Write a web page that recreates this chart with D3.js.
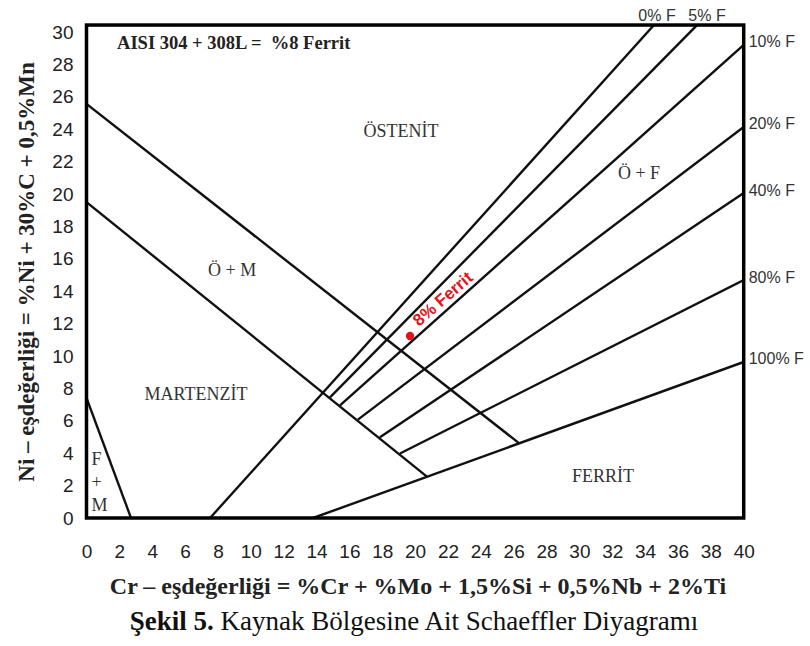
<!DOCTYPE html>
<html><head><meta charset="utf-8">
<script src="https://cdn.jsdelivr.net/npm/d3@7"></script>
<style>body{margin:0;background:#fff}svg{display:block}</style>
</head><body>
<svg id="chart" width="810" height="646"></svg>
<script>
// ---------- data ----------
const crTicks = [0,2,4,6,8,10,12,14,16,18,20,22,24,26,28,30,32,34,36,38,40];
const niTicks = [0,2,4,6,8,10,12,14,16,18,20,22,24,26,28,30];
const crMax = 40;
const niFrameTop = 30.43;

// phase boundary lines [Cr_eq, Ni_eq]
const austeniteBoundary = [[0, 25.56], [26.32, 4.62]];
const martensiteBoundary = [[0, 19.5], [20.72, 2.55]];
const ferriteMartensiteBoundary = [[0, 7.41], [2.71, 0]];

// iso-ferrite lines
const ferriteLabels = ["0% F", "5% F", "10% F", "20% F", "40% F", "80% F", "100% F"];
const ferriteStart = [[7.52, 0], [14.82, 7.45], [15.43, 6.95], [16.52, 6.07], [17.86, 4.98], [19.08, 3.98], [13.79, 0]];
const ferriteEnd = [[34.54, 30.43], [37.16, 30.43], [40, 29.2], [40, 24.14], [40, 20.06], [40, 14.69], [40, 9.63]];

// weld point
const weldPoint = [19.69, 11.23];
const weldLabel = "8% Ferrit";

// region names and their centres [Cr_eq, Ni_eq]
const regionNames = ["ÖSTENİT", "Ö + F", "Ö + M", "MARTENZİT", "FERRİT"];
const regionCenters = [[19.14, 23.9], [33.63, 21.3], [8.86, 15.3], [6.66, 7.65], [31.44, 2.6]];
const fmLetters = ["F", "+", "M"];

const noteText = "AISI 304 + 308L =  %8 Ferrit";
const xTitle = "Cr – eşdeğerliği = %Cr + %Mo + 1,5%Si + 0,5%Nb + 2%Ti";
const yTitle = "Ni – eşdeğerliği = %Ni + 30%C + 0,5%Mn";
const captionBold = "Şekil 5.";
const captionRest = " Kaynak Bölgesine Ait Schaeffler Diyagramı";

// ---------- drawing ----------
const svg = d3.select("#chart");
const x = d3.scaleLinear().domain([0, crMax]).range([86.5, 743.7]);
const y = d3.scaleLinear().domain([0, 30]).range([518, 32]);
const sans = "'Liberation Sans', Arial, sans-serif";
const serif = "'Liberation Serif', 'Times New Roman', serif";

svg.append("defs").append("clipPath").attr("id", "plotClip")
  .append("rect")
  .attr("x", x(0)).attr("y", y(niFrameTop))
  .attr("width", x(crMax) - x(0)).attr("height", y(0) - y(niFrameTop));

const line = d3.line().x(d => x(d[0])).y(d => y(d[1]));
const plot = svg.append("g").attr("clip-path", "url(#plotClip)");

const allLines = [austeniteBoundary, martensiteBoundary, ferriteMartensiteBoundary]
  .concat(ferriteStart.map((s, i) => [s, ferriteEnd[i]]));
plot.selectAll("path.bound").data(allLines).join("path")
  .attr("class", "bound")
  .attr("d", line)
  .attr("fill", "none").attr("stroke", "#111").attr("stroke-width", 2.4);

// frame
svg.append("rect")
  .attr("x", x(0)).attr("y", y(niFrameTop))
  .attr("width", x(crMax) - x(0)).attr("height", y(0) - y(niFrameTop))
  .attr("fill", "none").attr("stroke", "#000").attr("stroke-width", 3.5);

// axes
const yAxis = svg.append("g").attr("transform", `translate(${x(0)},0)`)
  .call(d3.axisLeft(y).tickValues(niTicks).tickSize(0).tickPadding(13));
const xAxis = svg.append("g").attr("transform", `translate(0,${y(0)})`)
  .call(d3.axisBottom(x).tickValues(crTicks).tickSize(0).tickPadding(27));
[yAxis, xAxis].forEach(g => {
  g.select(".domain").remove();
  g.selectAll("text").attr("font-family", sans).attr("font-size", 19).attr("fill", "#222");
});

// ferrite labels
const lbl = svg.append("g").attr("font-family", sans).attr("font-size", 16).attr("fill", "#333");
ferriteLabels.forEach((t, i) => {
  const e = ferriteEnd[i];
  if (e[0] < crMax) {
    lbl.append("text").attr("x", x(e[0]) + 3 + i * 7).attr("y", 21)
      .attr("text-anchor", "middle").text(t);
  } else {
    lbl.append("text").attr("x", x(e[0]) + 5).attr("y", y(e[1]) - 3)
      .attr("dominant-baseline", "central").text(t);
  }
});

// region labels
const reg = svg.append("g").attr("font-family", serif).attr("font-size", 18).attr("fill", "#333");
reg.selectAll("text.region").data(regionNames).join("text")
  .attr("class", "region")
  .attr("x", (d, i) => x(regionCenters[i][0]))
  .attr("y", (d, i) => y(regionCenters[i][1]))
  .attr("text-anchor", "middle").attr("dominant-baseline", "central")
  .text(d => d);
reg.selectAll("text.fm").data(fmLetters).join("text")
  .attr("class", "fm")
  .attr("x", x(0) + 5)
  .attr("y", (d, i) => 465 + i * 23)
  .text(d => d);

// note
svg.append("text").attr("x", x(1.86)).attr("y", 49)
  .attr("font-family", serif).attr("font-size", 18.5).attr("font-weight", "bold").attr("fill", "#222")
  .attr("xml:space", "preserve").style("white-space", "pre")
  .text(noteText);

// weld point
svg.append("circle").attr("cx", x(weldPoint[0])).attr("cy", y(weldPoint[1])).attr("r", 4.2).attr("fill", "#e8121a");
svg.append("text")
  .attr("transform", `translate(${x(weldPoint[0]) + 9},${y(weldPoint[1]) - 9}) rotate(-41)`)
  .attr("font-family", sans).attr("font-size", 17).attr("font-weight", "bold").attr("fill", "#e8121a")
  .text(weldLabel);

// axis titles
svg.append("text").attr("transform", "translate(34,272) rotate(-90)")
  .attr("text-anchor", "middle")
  .attr("font-family", serif).attr("font-size", 23).attr("font-weight", "bold").attr("fill", "#222")
  .text(yTitle);
svg.append("text").attr("x", 418).attr("y", 594)
  .attr("text-anchor", "middle")
  .attr("font-family", serif).attr("font-size", 24).attr("font-weight", "bold").attr("fill", "#222")
  .text(xTitle);
const cap = svg.append("text").attr("x", 414).attr("y", 630)
  .attr("text-anchor", "middle")
  .attr("font-family", serif).attr("font-size", 27).attr("fill", "#111");
cap.append("tspan").attr("font-weight", "bold").text(captionBold);
cap.append("tspan").text(captionRest);
</script>
</body></html>
